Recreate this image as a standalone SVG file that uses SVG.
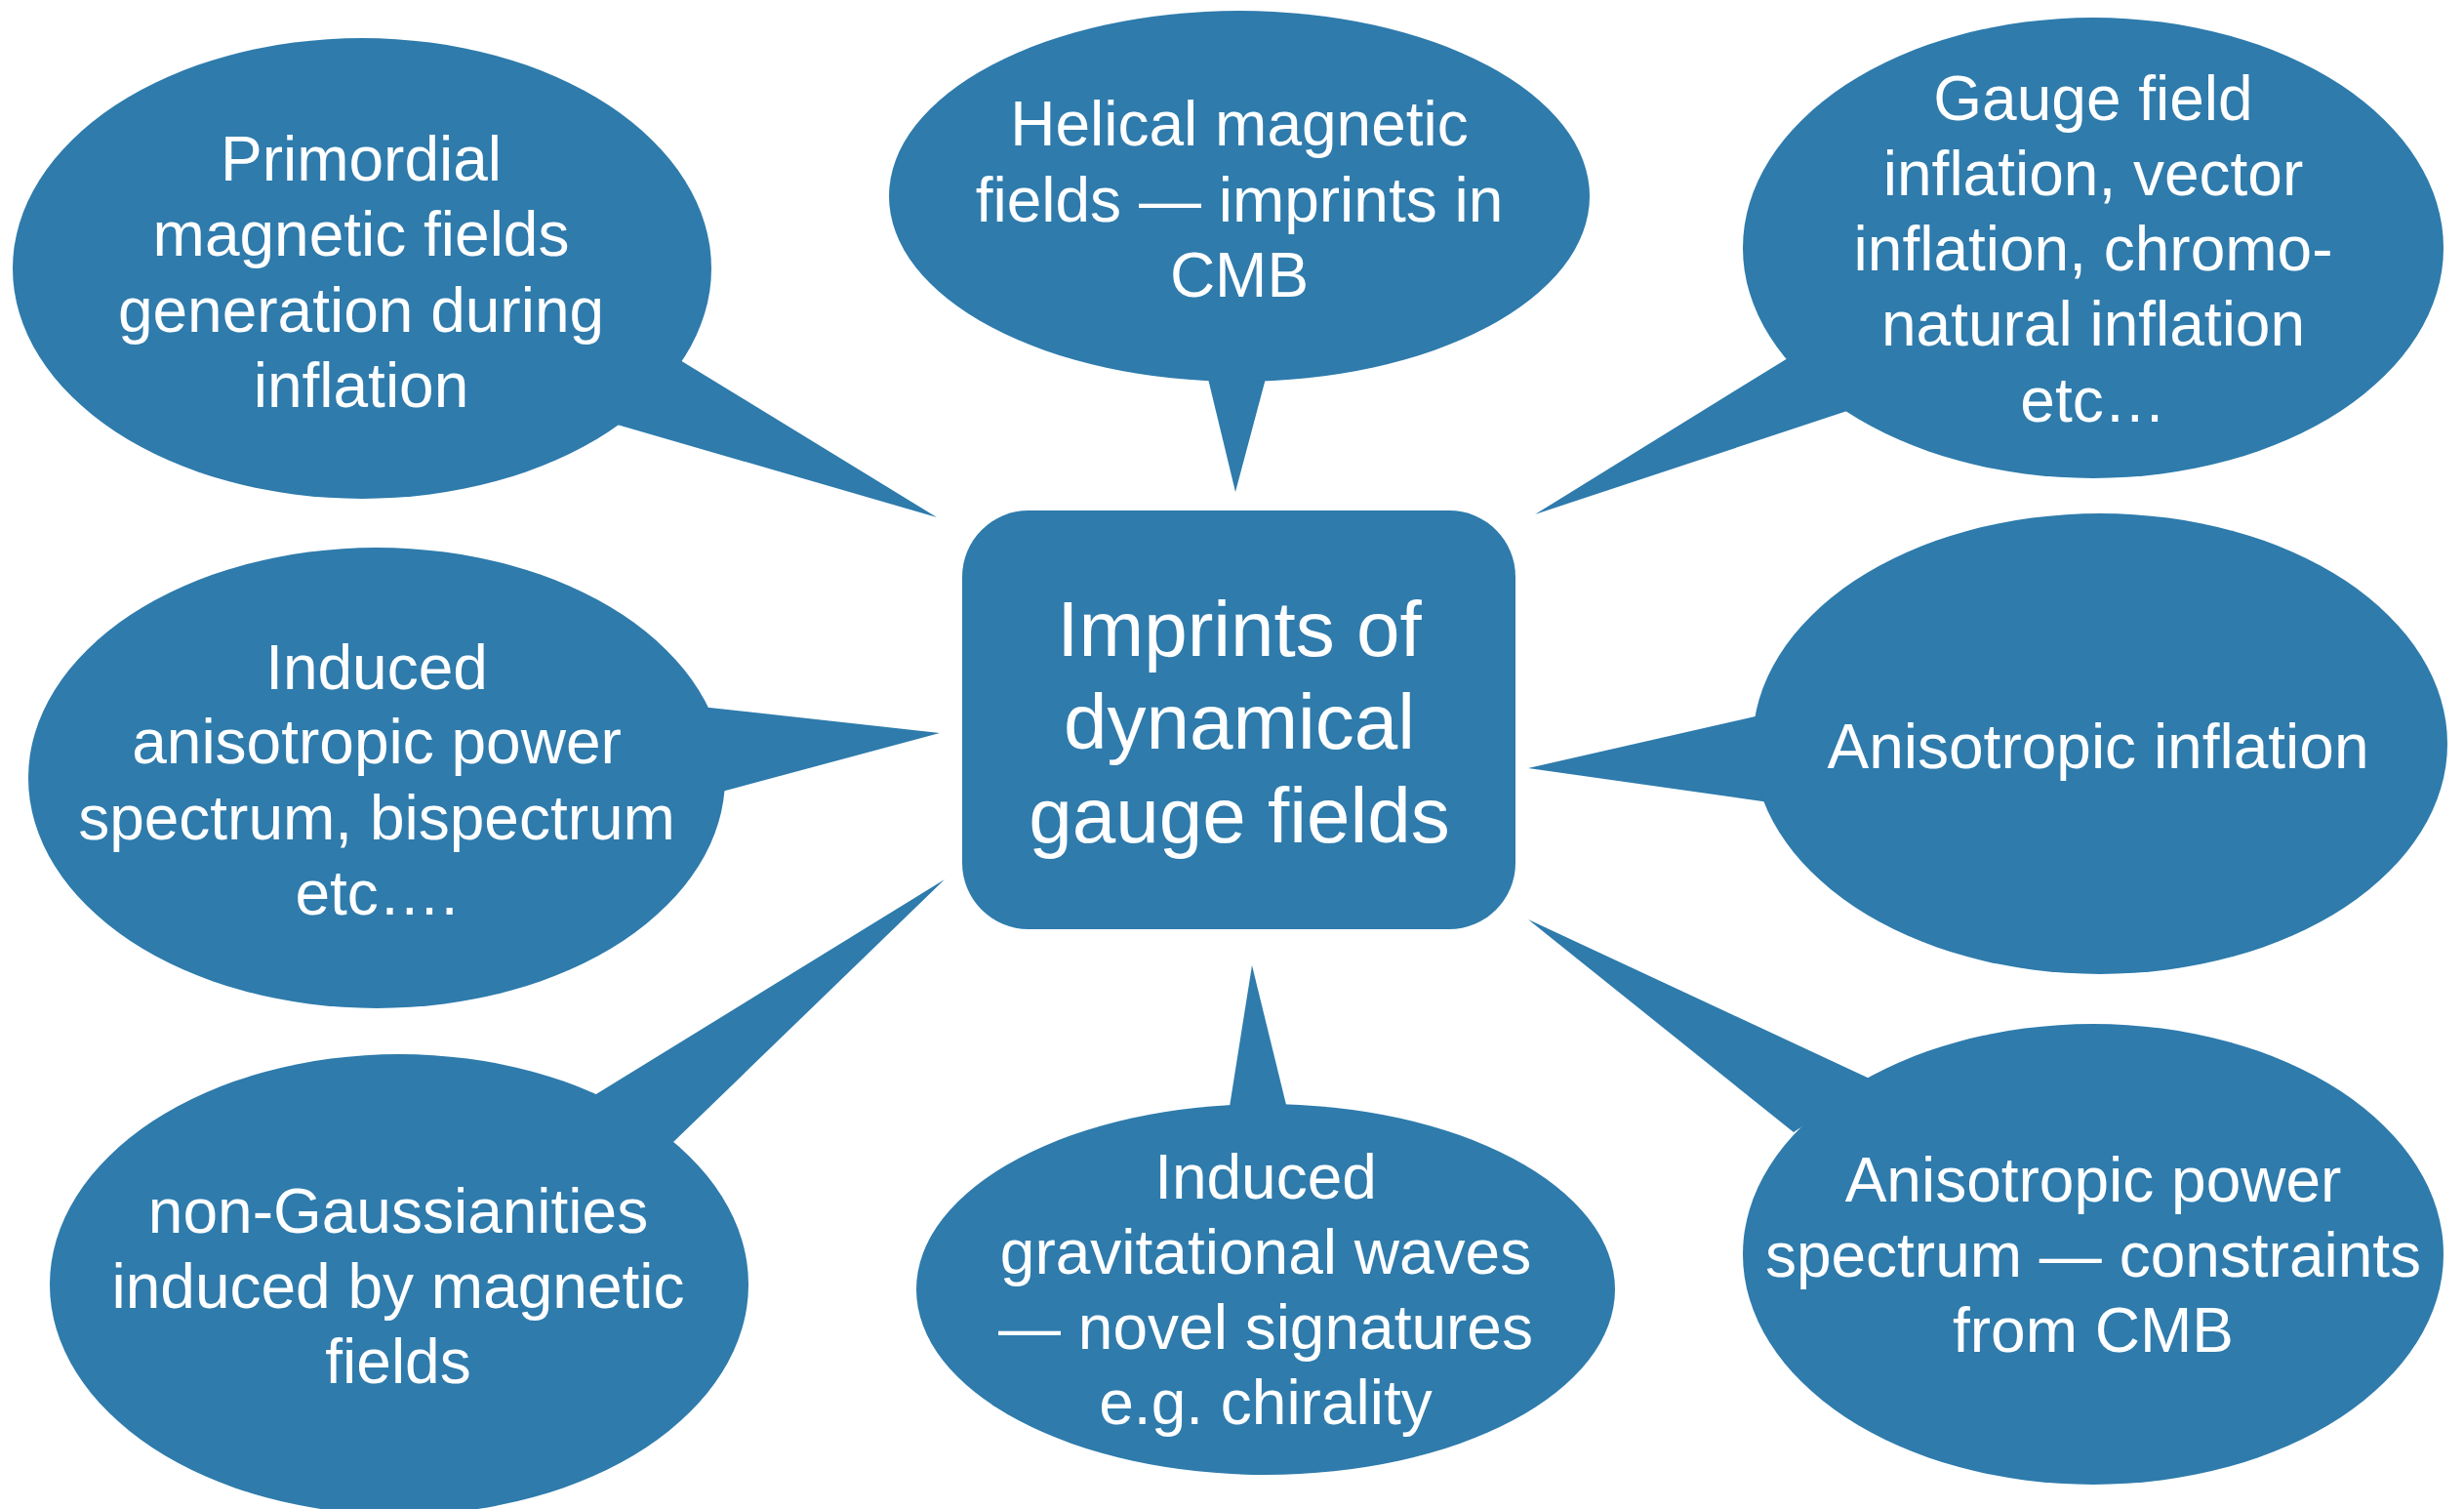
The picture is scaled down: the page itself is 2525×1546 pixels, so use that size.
<svg xmlns="http://www.w3.org/2000/svg" width="2525" height="1546" viewBox="0 0 2525 1546">
<style>
.b{fill:#2e7bac}
.t{fill:#ffffff;font-family:"Liberation Sans",Arial,Helvetica,sans-serif;font-size:64px;text-anchor:middle}
.c{font-size:80px}
</style>
<rect width="2525" height="1546" fill="#ffffff"/>
<g id="connectors" class="b">
<polygon points="692,366 960,530 622,432"/>
<polygon points="1237,384 1266,504 1298,384"/>
<polygon points="1832,367 1573,527 1902,418"/>
<polygon points="718,724 963,751 736,812"/>
<polygon points="1803,733 1566,787 1813,822"/>
<polygon points="606,1124 968,901 690,1170"/>
<polygon points="1259,1140 1283,989 1320,1140"/>
<polygon points="1918,1106 1566,942 1838,1160"/>
</g>
<g id="n1"><ellipse class="b" cx="371" cy="275" rx="358" ry="236"/>
<text class="t"><tspan x="370" y="185">Primordial</tspan><tspan x="370" y="262">magnetic fields</tspan><tspan x="370" y="340">generation during</tspan><tspan x="370" y="417">inflation</tspan></text></g>
<g id="n2"><ellipse class="b" cx="1270" cy="201" rx="359" ry="190"/>
<text class="t"><tspan x="1270" y="149">Helical magnetic</tspan><tspan x="1270" y="227">fields — imprints in</tspan><tspan x="1270" y="304">CMB</tspan></text></g>
<g id="n3"><ellipse class="b" cx="2145" cy="254" rx="359" ry="236"/>
<text class="t"><tspan x="2145" y="123">Gauge field</tspan><tspan x="2145" y="200">inflation, vector</tspan><tspan x="2145" y="277">inflation, chromo-</tspan><tspan x="2145" y="354">natural inflation</tspan><tspan x="2145" y="432">etc…</tspan></text></g>
<g id="n4"><ellipse class="b" cx="386" cy="797" rx="357" ry="236"/>
<text class="t"><tspan x="386" y="706">Induced</tspan><tspan x="386" y="782">anisotropic power</tspan><tspan x="386" y="860">spectrum, bispectrum</tspan><tspan x="386" y="937">etc….</tspan></text></g>
<g id="n5"><ellipse class="b" cx="2152" cy="762" rx="356" ry="236"/>
<text class="t" x="2150" y="787">Anisotropic inflation</text></g>
<g id="n6"><ellipse class="b" cx="409" cy="1316" rx="358" ry="236"/>
<text class="t"><tspan x="408" y="1263">non-Gaussianities</tspan><tspan x="408" y="1340">induced by magnetic</tspan><tspan x="408" y="1417">fields</tspan></text></g>
<g id="n7"><ellipse class="b" cx="1297" cy="1321" rx="358" ry="190"/>
<text class="t"><tspan x="1297" y="1228">Induced</tspan><tspan x="1297" y="1305">gravitational waves</tspan><tspan x="1297" y="1382">— novel signatures</tspan><tspan x="1297" y="1459">e.g. chirality</tspan></text></g>
<g id="n8"><ellipse class="b" cx="2145" cy="1285" rx="359" ry="236"/>
<text class="t"><tspan x="2145" y="1231">Anisotropic power</tspan><tspan x="2145" y="1308">spectrum — constraints</tspan><tspan x="2145" y="1385">from CMB</tspan></text></g>
<g id="center"><rect class="b" x="986" y="523" width="567" height="429" rx="68" ry="68"/>
<text class="t c"><tspan x="1270" y="672">Imprints of</tspan><tspan x="1270" y="767">dynamical</tspan><tspan x="1270" y="863">gauge fields</tspan></text></g>
</svg>
